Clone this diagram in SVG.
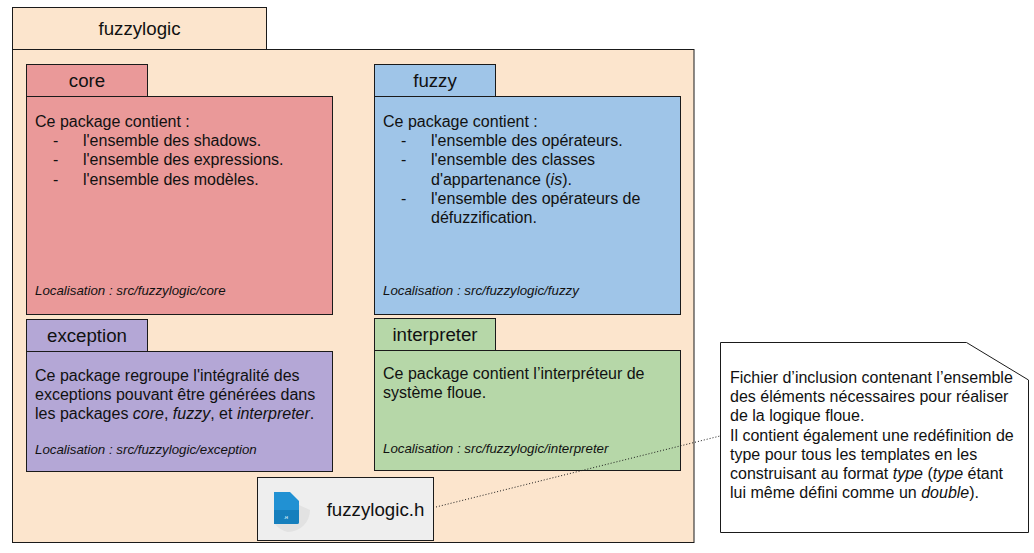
<svg xmlns="http://www.w3.org/2000/svg" width="1034" height="553" viewBox="0 0 1034 553">
<style>
text{font-family:"Liberation Sans",Arial,sans-serif;fill:#111}
.b{stroke:#1a1a1a;stroke-width:1}
.t{font-size:16px}
.h{font-size:18.7px;text-anchor:middle}
.l{font-size:13.3px;font-style:italic}
.i{font-style:italic}
</style>
<rect width="1034" height="553" fill="#fff"/>
<g id="fuzzylogic">
<rect class="b" x="12.5" y="7.5" width="254" height="42" fill="#fce5cd"/>
<rect class="b" x="12.5" y="49.5" width="681.500" height="493" fill="#fce5cd"/>
<text class="h" x="139.500" y="35">fuzzylogic</text>
</g>
<g id="core">
<rect class="b" x="26.500" y="64.500" width="121" height="32" fill="#ea9999"/>
<rect class="b" x="26.500" y="96.500" width="306" height="218" fill="#ea9999"/>
<text class="h" x="87" y="87">core</text>
<text class="t" x="35" y="127">Ce package contient :</text>
<text class="t" x="53" y="146.200">-</text><text class="t" x="83" y="146.200">l'ensemble des shadows.</text>
<text class="t" x="53" y="165.400">-</text><text class="t" x="83" y="165.400">l'ensemble des expressions.</text>
<text class="t" x="53" y="184.600">-</text><text class="t" x="83" y="184.600">l'ensemble des modèles.</text>
<text class="l" x="35" y="295">Localisation : src/fuzzylogic/core</text>
</g>
<g id="fuzzy">
<rect class="b" x="374.500" y="64.500" width="121" height="32" fill="#9fc5e8"/>
<rect class="b" x="374.500" y="96.500" width="306" height="218" fill="#9fc5e8"/>
<text class="h" x="435" y="87">fuzzy</text>
<text class="t" x="383" y="127">Ce package contient :</text>
<text class="t" x="401" y="146.200">-</text><text class="t" x="431" y="146.200">l'ensemble des opérateurs.</text>
<text class="t" x="401" y="165.400">-</text><text class="t" x="431" y="165.400">l'ensemble des classes</text>
<text class="t" x="431" y="184.600">d'appartenance (<tspan class="i">is</tspan>).</text>
<text class="t" x="401" y="203.800">-</text><text class="t" x="431" y="203.800">l'ensemble des opérateurs de</text>
<text class="t" x="431" y="223">défuzzification.</text>
<text class="l" x="383" y="295">Localisation : src/fuzzylogic/fuzzy</text>
</g>
<g id="exception">
<rect class="b" x="26.500" y="319.500" width="121" height="32" fill="#b4a7d6"/>
<rect class="b" x="26.500" y="351.500" width="306" height="120" fill="#b4a7d6"/>
<text class="h" x="87" y="342">exception</text>
<text class="t" x="35" y="381">Ce package regroupe l'intégralité des</text>
<text class="t" x="35" y="400.200">exceptions pouvant être générées dans</text>
<text class="t" x="35" y="419.400">les packages <tspan class="i">core</tspan>, <tspan class="i">fuzzy</tspan>, et <tspan class="i">interpreter</tspan>.</text>
<text class="l" x="35" y="454">Localisation : src/fuzzylogic/exception</text>
</g>
<g id="interpreter">
<rect class="b" x="374.500" y="318.500" width="121" height="32" fill="#b6d7a8"/>
<rect class="b" x="374.500" y="350.500" width="306" height="120" fill="#b6d7a8"/>
<text class="h" x="435" y="341">interpreter</text>
<text class="t" x="383" y="379">Ce package contient l’interpréteur de</text>
<text class="t" x="383" y="398.200">système floue.</text>
<text class="l" x="383" y="453">Localisation : src/fuzzylogic/interpreter</text>
</g>
<g id="connectors">
<line x1="436" y1="507" x2="720" y2="436" stroke="#1a1a1a" stroke-width="1" stroke-dasharray="1 2"/>
</g>
<g id="file">
<rect class="b" x="257.500" y="477.500" width="176" height="63" fill="#eeeeee"/>
<path d="M299 505L310 510A22 22 0 0 1 288 532A22 22 0 0 1 275 524Z" fill="#e2e2e2"/>
<path d="M274 492h16l9 9v21a2 2 0 0 1-2 2h-23z" fill="#2191d3"/>
<path d="M274 510h25v12a2 2 0 0 1-2 2h-23z" fill="#167fbd"/>
<text x="286" y="519" font-size="4" font-weight="bold" text-anchor="middle" style="fill:#d5ecf9">.H</text>
<text x="375.500" y="516" font-size="18.700" text-anchor="middle">fuzzylogic.h</text>
</g>
<g id="note">
<path class="b" d="M720.500 342.500H966.500L1028.500 380V532.500H720.500Z" fill="#fff"/>
<text class="t" x="730" y="383">Fichier d’inclusion contenant l’ensemble</text>
<text class="t" x="730" y="402.200">des éléments nécessaires pour réaliser</text>
<text class="t" x="730" y="421.400">de la logique floue.</text>
<text class="t" x="730" y="440.600">Il contient également une redéfinition de</text>
<text class="t" x="730" y="459.800">type pour tous les templates en les</text>
<text class="t" x="730" y="479">construisant au format <tspan class="i">type</tspan> (<tspan class="i">type</tspan> étant</text>
<text class="t" x="730" y="498.200">lui même défini comme un <tspan class="i">double</tspan>).</text>
</g>
</svg>
